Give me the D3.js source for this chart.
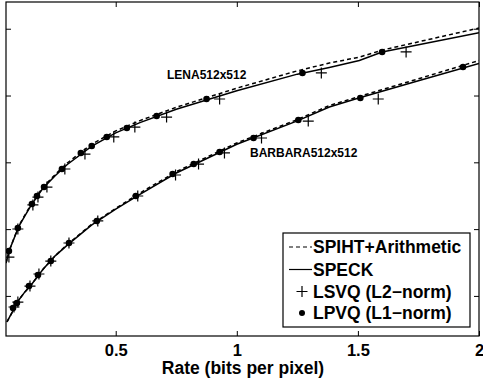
<!DOCTYPE html>
<html>
<head>
<meta charset="utf-8">
<script src="https://cdn.jsdelivr.net/npm/d3@7"></script>
<style>
  html, body { margin: 0; padding: 0; background: #fff; }
  svg { display: block; }
  text { font-family: "Liberation Sans", Arial, Helvetica, sans-serif; font-weight: bold; fill: #000; }
</style>
</head>
<body>
<script>
// ---- data (rate in bits per pixel, PSNR in dB) ----
const xTicks = [0.5, 1, 1.5, 2];
const xTickLabels = ["0.5", "1", "1.5", "2"];
const yTicks = [25, 30, 35, 40, 45];

const lenaCurveRate = [0.047, 0.0625, 0.1, 0.125, 0.15, 0.2, 0.25, 0.3, 0.4, 0.5, 0.6, 0.75, 1.0, 1.25, 1.382, 1.506, 1.6, 2.0];
const lenaSpeck = [27.46, 28.5, 30.2, 31.0, 31.76, 33.07, 33.99, 34.84, 36.2, 37.2, 37.97, 38.97, 40.36, 41.6, 42.1, 42.62, 43.26, 44.7];
const lenaSpiht = [27.46, 28.5, 30.25, 31.05, 31.82, 33.15, 34.08, 34.95, 36.35, 37.35, 38.12, 39.12, 40.55, 41.85, 42.43, 42.87, 43.4, 45.05];

const barbCurveRate = [0.051, 0.1, 0.125, 0.15, 0.2, 0.25, 0.3, 0.4, 0.5, 0.6, 0.75, 1.0, 1.25, 1.382, 1.5, 1.75, 2.0];
const barbSpeck = [23.05, 24.7, 25.3, 25.8, 27.0, 28.0, 28.8, 30.3, 31.5, 32.6, 34.2, 36.35, 38.1, 39.14, 39.8, 41.1, 42.4];
const barbSpiht = [23.05, 24.7, 25.3, 25.8, 27.0, 28.0, 28.85, 30.35, 31.55, 32.7, 34.3, 36.45, 38.2, 39.25, 39.9, 41.25, 42.62];

const lenaLpvqRate = [0.059, 0.096, 0.154, 0.175, 0.204, 0.278, 0.356, 0.401, 0.463, 0.546, 0.669, 0.875, 1.271, 1.600];
const lenaLpvqPsnr = [28.36, 30.08, 31.88, 32.48, 33.15, 34.50, 35.70, 36.22, 36.90, 37.57, 38.47, 39.74, 41.69, 43.26];
const lenaLsvqRate = [0.059, 0.096, 0.158, 0.179, 0.216, 0.290, 0.373, 0.492, 0.579, 0.710, 0.929, 1.349, 1.699];
const lenaLsvqPsnr = [27.91, 30.01, 31.81, 32.40, 33.15, 34.50, 35.62, 36.90, 37.64, 38.39, 39.74, 41.69, 43.26];

const barbLpvqRate = [0.076, 0.092, 0.142, 0.179, 0.232, 0.307, 0.422, 0.583, 0.735, 0.822, 0.929, 1.069, 1.254, 1.510, 1.934];
const barbLpvqPsnr = [24.10, 24.47, 25.74, 26.57, 27.61, 28.96, 30.61, 32.48, 34.13, 34.87, 35.77, 36.82, 38.17, 39.81, 42.13];
const barbLsvqRate = [0.080, 0.096, 0.146, 0.183, 0.232, 0.307, 0.426, 0.591, 0.747, 0.842, 0.949, 1.102, 1.295, 1.584];
const barbLsvqPsnr = [24.17, 24.54, 25.74, 26.64, 27.61, 28.96, 30.61, 32.48, 34.05, 34.87, 35.70, 36.82, 38.09, 39.74];

const legendLabels = ["SPIHT+Arithmetic", "SPECK", "LSVQ (L2\u2212norm)", "LPVQ (L1\u2212norm)"];
const annotations = ["LENA512x512", "BARBARA512x512"];

// ---- layout ----
const W = 483, H = 382;
const plot = { left: 6, top: 2, right: 479, bottom: 336 };

const svg = d3.select("body").append("svg").attr("width", W).attr("height", H);

const x = d3.scaleLinear().domain([0.047, 2]).range([plot.left, plot.right]);
const y = d3.scaleLinear().domain([22, 47]).range([plot.bottom, plot.top]);

svg.append("clipPath").attr("id", "clip")
  .append("rect").attr("x", plot.left).attr("y", plot.top)
  .attr("width", plot.right - plot.left).attr("height", plot.bottom - plot.top);

// axes (ticks inward, MATLAB box style)
const tickLen = 5;
const gBottom = svg.append("g").attr("transform", `translate(0,${plot.bottom})`)
  .call(d3.axisBottom(x).tickValues(xTicks).tickSize(-tickLen).tickPadding(8)
    .tickFormat((d, i) => xTickLabels[i]));
const gTop = svg.append("g").attr("transform", `translate(0,${plot.top})`)
  .call(d3.axisTop(x).tickValues(xTicks).tickSize(-tickLen).tickFormat(""));
const gLeft = svg.append("g").attr("transform", `translate(${plot.left},0)`)
  .call(d3.axisLeft(y).tickValues(yTicks).tickSize(-tickLen).tickFormat(""));
const gRight = svg.append("g").attr("transform", `translate(${plot.right},0)`)
  .call(d3.axisRight(y).tickValues(yTicks).tickSize(-tickLen).tickFormat(""));

[gBottom, gTop, gLeft, gRight].forEach(g => {
  g.select(".domain").remove();
  g.selectAll(".tick line").attr("stroke", "#000").attr("stroke-width", 1);
});
svg.append("rect")
  .attr("x", plot.left).attr("y", plot.top)
  .attr("width", plot.right - plot.left).attr("height", plot.bottom - plot.top)
  .attr("fill", "none").attr("stroke", "#000").attr("stroke-width", 1.2);

gBottom.selectAll(".tick text")
  .attr("font-size", 16.5).attr("font-family", "Liberation Sans, Arial, sans-serif")
  .attr("font-weight", "bold").attr("fill", "#000");

// x axis title
svg.append("text").attr("x", 243).attr("y", 374)
  .attr("text-anchor", "middle").attr("font-size", 17.5)
  .text("Rate (bits per pixel)");

// ---- curves ----
const plotG = svg.append("g").attr("clip-path", "url(#clip)");
const line = d3.line().x(d => x(d[0])).y(d => y(d[1]));

function drawCurve(rates, vals, dashed) {
  plotG.append("path")
    .datum(rates.map((r, i) => [r, vals[i]]))
    .attr("d", line)
    .attr("fill", "none").attr("stroke", "#000")
    .attr("stroke-width", 1.5)
    .attr("stroke-dasharray", dashed ? "4,3" : null);
}
drawCurve(lenaCurveRate, lenaSpiht, true);
drawCurve(lenaCurveRate, lenaSpeck, false);
drawCurve(barbCurveRate, barbSpiht, true);
drawCurve(barbCurveRate, barbSpeck, false);

// ---- markers ----
const crossHalf = 5.5;
function drawCrosses(rates, vals) {
  const g = plotG.append("g");
  rates.forEach((r, i) => {
    const cx = x(r), cy = y(vals[i]);
    g.append("path")
      .attr("d", `M${cx - crossHalf},${cy}H${cx + crossHalf}M${cx},${cy - crossHalf}V${cy + crossHalf}`)
      .attr("stroke", "#000").attr("stroke-width", 1.2).attr("fill", "none");
  });
}
function drawDots(rates, vals) {
  plotG.append("g").selectAll("circle")
    .data(rates.map((r, i) => [r, vals[i]]))
    .join("circle")
    .attr("cx", d => x(d[0])).attr("cy", d => y(d[1]))
    .attr("r", 3.3).attr("fill", "#000");
}
drawCrosses(lenaLsvqRate, lenaLsvqPsnr);
drawDots(lenaLpvqRate, lenaLpvqPsnr);
drawCrosses(barbLsvqRate, barbLsvqPsnr);
drawDots(barbLpvqRate, barbLpvqPsnr);

// ---- annotations ----
svg.append("text").attr("x", 167).attr("y", 79).attr("font-size", 12).text(annotations[0]);
svg.append("text").attr("x", 250).attr("y", 157).attr("font-size", 12).text(annotations[1]);

// ---- legend ----
const lg = svg.append("g");
lg.append("rect").attr("x", 283).attr("y", 233).attr("width", 187).attr("height", 94)
  .attr("fill", "#fff").attr("stroke", "#000").attr("stroke-width", 1.2);
const rowY = [247, 269.5, 291.5, 313];
const sx0 = 289, sx1 = 312, sm = 302;
lg.append("line").attr("x1", sx0).attr("x2", sx1).attr("y1", rowY[0]).attr("y2", rowY[0])
  .attr("stroke", "#000").attr("stroke-width", 1.2).attr("stroke-dasharray", "4,3");
lg.append("line").attr("x1", sx0).attr("x2", sx1).attr("y1", rowY[1]).attr("y2", rowY[1])
  .attr("stroke", "#000").attr("stroke-width", 1.2);
lg.append("path")
  .attr("d", `M${sm - crossHalf},${rowY[2]}H${sm + crossHalf}M${sm},${rowY[2] - crossHalf}V${rowY[2] + crossHalf}`)
  .attr("stroke", "#000").attr("stroke-width", 1.2);
lg.append("circle").attr("cx", sm).attr("cy", rowY[3]).attr("r", 3).attr("fill", "#000");
legendLabels.forEach((t, i) => {
  lg.append("text").attr("x", 313).attr("y", rowY[i]).attr("dy", "0.35em")
    .attr("font-size", 17.5).text(t);
});
</script>
</body>
</html>
